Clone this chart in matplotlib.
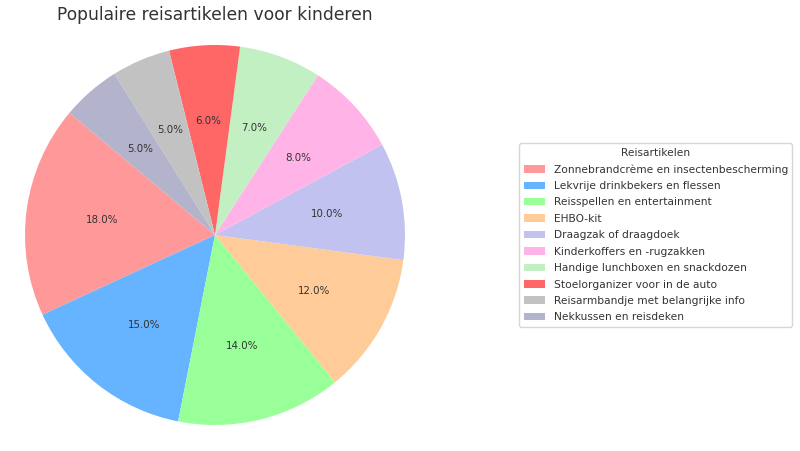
import matplotlib
matplotlib.use("Agg")
import matplotlib.pyplot as plt

categories = [
    "Zonnebrandcrème en insectenbescherming",
    "Lekvrije drinkbekers en flessen",
    "Reisspellen en entertainment",
    "EHBO-kit",
    "Draagzak of draagdoek",
    "Kinderkoffers en -rugzakken",
    "Handige lunchboxen en snackdozen",
    "Stoelorganizer voor in de auto",
    "Reisarmbandje met belangrijke info",
    "Nekkussen en reisdeken",
]
values = [18, 15, 14, 12, 10, 8, 7, 6, 5, 5]
colors = ['#ff9999', '#66b3ff', '#99ff99', '#ffcc99', '#c2c2f0',
          '#ffb3e6', '#c2f0c2', '#ff6666', '#c2c2c2', '#b3b3cc']

text_color = '#333333'
W, H = 800, 451
fig = plt.figure(figsize=(8, 4.51), dpi=100)
ax = fig.add_axes([25 / W, 26 / H, 380 / W, 380 / H])
wedges, texts, autotexts = ax.pie(values, colors=colors, autopct='%1.1f%%',
                                  startangle=140, textprops={'fontsize': 7.4, 'color': text_color})
ax.set_xlim(-1, 1)
ax.set_ylim(-1, 1)
ax.set_aspect('equal')
fig.text(215 / W, 1 - 15 / H, "Populaire reisartikelen voor kinderen", fontsize=12.3,
         color=text_color, ha='center', va='center')
leg = fig.legend(wedges, categories, title="Reisartikelen", loc='center left',
                 bbox_to_anchor=(514 / W, 1 - 235 / H), fontsize=7.7, title_fontsize=7.7,
                 labelcolor=text_color, frameon=True, labelspacing=0.6)
leg.get_title().set_color(text_color)
fig.savefig("out.png", dpi=100)
